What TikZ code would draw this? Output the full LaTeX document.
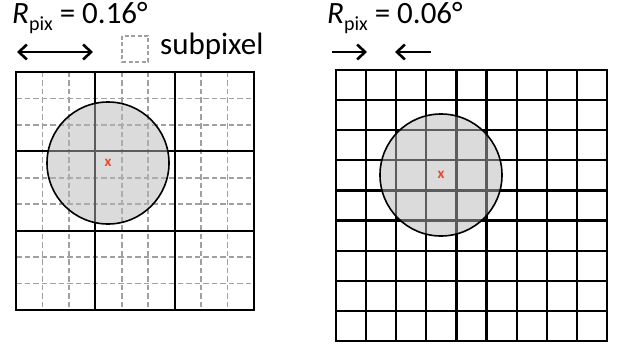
\documentclass[tikz,border=0pt]{standalone}
\usepackage{fontspec}
\setmainfont{Carlito}
\usetikzlibrary{arrows.meta,positioning}
\definecolor{markred}{HTML}{E8472B}
\definecolor{subgray}{HTML}{A0A0A0}
\newcommand{\pixsub}{\raisebox{-7pt}{\fontsize{20}{22}\selectfont pix}}

\begin{document}
\begin{tikzpicture}[x=1pt, y=-1pt, >={Straight Barb[length=8pt,width=15pt]},
  major/.style={line width=2.3pt, black},
  minor/.style={line width=1.8pt, subgray, dash pattern=on 5.5pt off 3pt},
  beam/.style={circle, draw=black, line width=1.6pt, fill=black!28, fill opacity=0.5, minimum size=122pt},
  title/.style={font=\fontsize{31}{34}\selectfont, inner sep=0pt, anchor=base west},
  centre/.style={text=markred, font=\fontsize{15}{16}\selectfont\bfseries, inner sep=0pt},
  span/.style={line width=2.6pt}]
\useasboundingbox (0,0) rectangle (619,345);
% left: coarse pixels, each split in 3x3 subpixels
\foreach \i in {1,2,4,5,7,8} {
  \draw[minor] (16+\i*26.44,72) -- (16+\i*26.44,310);
  \draw[minor] (16,72+\i*26.44) -- (254,72+\i*26.44);
}
\foreach \i in {1,2} {
  \draw[major] (16+\i*79.33,72) -- (16+\i*79.33,310);
  \draw[major] (16,72+\i*79.33) -- (254,72+\i*79.33);
}
\draw[major] (16,72) rectangle (254,310);
\node[beam] (beamL) at (108,163) {};
\node[centre] (markL) at (beamL.center) {x};
% right: fine pixels
\foreach \i in {1,...,8} {
  \draw[major] (336+\i*30.11,70) -- (336+\i*30.11,341);
  \draw[major] (336,70+\i*30.11) -- (607,70+\i*30.11);
}
\draw[major] (336,70) rectangle (607,341);
\node[beam] (beamR) at (441,175) {};
\node[centre] (markR) at (beamR.center) {x};
% labels
\node[title] (titleL) at (12,24) {\textit{R}\pixsub\ = 0.16°};
\node[title] (titleR) at (327,24) {\textit{R}\pixsub\ = 0.06°};
\draw[minor, line width=1.5pt, dash pattern=on 4pt off 2.5pt] (122,36) rectangle (148,62);
\node[title] (legend) at (160,55) {subpixel};
% pixel size arrows
\coordinate (spanL0) at (17,52);
\coordinate (spanL1) at (93,52);
\draw[span, <->] (spanL0) -- (spanL1);
\coordinate (spanR0) at (332,52);
\coordinate (spanR1) at (367,52);
\coordinate (spanR2) at (431,52);
\coordinate (spanR3) at (395,52);
\draw[span, ->] (spanR0) -- (spanR1);
\draw[span, ->] (spanR2) -- (spanR3);
\end{tikzpicture}
\end{document}
